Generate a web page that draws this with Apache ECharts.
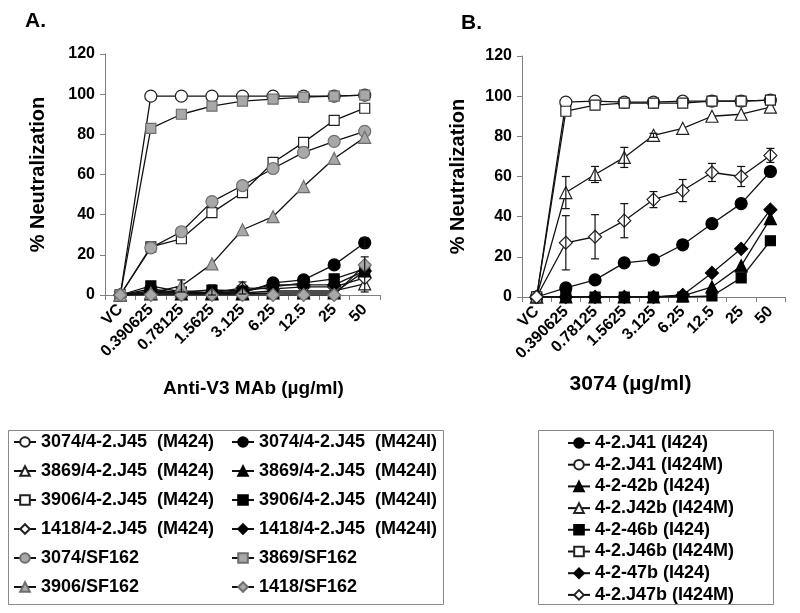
<!DOCTYPE html>
<html>
<head>
<meta charset="utf-8">
<script src="https://cdn.jsdelivr.net/npm/echarts@6/dist/echarts.min.js"></script>
<style>
  html, body { margin: 0; padding: 0; background: #fff; }
  #mychart { width: 800px; height: 613px; }
</style>
</head>
<body>
<div id="mychart"></div>
<script>
// x categories (antibody concentration, µg/ml)
const doses = ["VC", "0.390625", "0.78125", "1.5625", "3.125", "6.25", "12.5", "25", "50"];
const yTicks = [0, 20, 40, 60, 80, 100, 120];

// panel A - anti-V3 MAbs
const a3074M = [0, 99, 99, 99, 99, 99, 99, 99, 99.5];
const a3869M = [0, 1, 2, 1, 1, 2, 2, 2, 5.5];
const a3906M = [0, 24, 28, 41, 51, 66, 76, 87, 93];
const a1418M = [0, 1, 1, 1, 3.5, 3, 4, 4, 8.5];
const a3074I = [0, 3, 1, 1, 1, 6, 7.5, 15, 26];
const a3869I = [0, 0.5, 0.5, 0.5, 0.5, 1, 1, 1, 12];
const a3906I = [0, 4.5, 1.5, 2.5, 2, 4, 6, 8, 13];
const a1418I = [0, 2, 1, 1, 2, 5, 5, 5, 12];
const a3074SF = [0, 23.5, 31.5, 46.5, 54.5, 63, 71, 76.5, 81.5];
const a3869SF = [0, 83, 90, 94, 96.5, 97.5, 98.5, 99, 99.5];
const a3906SF = [0, 1, 4.5, 15.5, 32.5, 39, 54, 68, 78.5];
const a1418SF = [0, 0, 0, 0, 0, 0, 0, 0, 15];
// error bars (panel A)
const a3869MErr = [0, 0, 0, 0, 0, 0, 0, 0, 4];
const a1418MErr = [0, 0, 0, 0, 3, 0, 0, 0, 0];
const a3074IErr = [0, 0, 0, 0, 0, 0, 0, 0, 2.5];
const a3906IErr = [0, 0, 0, 2.5, 0, 0, 0, 0, 0];
const a3906SFErr = [0, 0, 3, 0, 0, 0, 0, 0, 0];
const a1418SFErr = [0, 0, 0, 0, 0, 0, 0, 0, 4];

// panel B - 3074 against J41/J42b/J46b/J47b
const bJ41 = [0, 4.5, 8.5, 17, 18.5, 26, 36.5, 46.5, 62.5];
const bJ41M = [0, 97, 97.5, 97, 97, 97.5, 97.5, 97.5, 98];
const b42b = [0, 0, 0, 0, 0, 0.5, 5, 15.5, 39];
const bJ42bM = [0, 52, 61, 69.5, 80.5, 84, 90, 91, 94.5];
const b46b = [0, 0, 0, 0, 0, 0, 0.5, 9.5, 28];
const bJ46bM = [0, 92.5, 95.5, 96.5, 96.5, 96.5, 97.5, 97.5, 98];
const b47b = [0, 0, 0, 0, 0, 1, 12, 24, 43.5];
const bJ47bM = [0, 27, 30, 38, 48.5, 53, 62, 60, 70.5];
// error bars (panel B)
const bJ42bMErr = [0, 8, 4, 5, 1, 0, 0, 0, 0];
const bJ47bMErr = [0, 13.5, 11, 8.5, 4, 5.5, 4.5, 5, 3.5];

const FONT = "Liberation Sans, Arial, sans-serif";

// marker looks
const fills = {
  open: { color: "#fff", borderColor: "#222" },
  black: { color: "#000", borderColor: "#000" },
  gray: { color: "#a8a8a8", borderColor: "#6e6e6e" }
};
const sizes = { circle: 12, rect: 10, triangle: 12, diamond: 13 };

function line(name, data, symbol, fill, idx) {
  return {
    name: name,
    type: "line",
    xAxisIndex: idx,
    yAxisIndex: idx,
    data: data,
    symbol: symbol,
    symbolSize: sizes[symbol],
    showAllSymbol: true,
    lineStyle: { color: "#111", width: 1.3 },
    itemStyle: { color: fills[fill].color, borderColor: fills[fill].borderColor, borderWidth: 1.2 },
    z: 3
  };
}

function errBars(data, err, idx) {
  const pts = [];
  data.forEach((v, i) => {
    if (err[i] > 0) pts.push([i, Math.max(0, v - err[i]), v + err[i]]);
  });
  return {
    type: "custom",
    xAxisIndex: idx,
    yAxisIndex: idx,
    data: pts,
    encode: { x: 0, y: [1, 2] },
    z: 4,
    silent: true,
    renderItem: function (params, api) {
      const i = api.value(0);
      const lo = api.coord([i, api.value(1)]);
      const hi = api.coord([i, api.value(2)]);
      const st = { stroke: "#111", lineWidth: 1.2 };
      return {
        type: "group",
        children: [
          { type: "line", shape: { x1: lo[0], y1: lo[1], x2: hi[0], y2: hi[1] }, style: st },
          { type: "line", shape: { x1: hi[0] - 4, y1: hi[1], x2: hi[0] + 4, y2: hi[1] }, style: st },
          { type: "line", shape: { x1: lo[0] - 4, y1: lo[1], x2: lo[0] + 4, y2: lo[1] }, style: st }
        ]
      };
    }
  };
}

function xAxis(idx, name, padding, gap) {
  return {
    type: "category",
    gridIndex: idx,
    data: doses,
    boundaryGap: true,
    name: name,
    nameLocation: "middle",
    nameGap: gap,
    nameTextStyle: { fontFamily: FONT, fontWeight: "bold", fontSize: idx === 0 ? 19 : 21, color: "#000", padding: padding },
    axisLine: { lineStyle: { color: "#808080", width: 1 } },
    axisTick: { show: true, interval: 0, length: 5, lineStyle: { color: "#808080" } },
    axisLabel: { interval: 0, rotate: 45, margin: 12, fontFamily: FONT, fontWeight: "bold", fontSize: 16, color: "#000" },
    splitLine: { show: false }
  };
}

function yAxis(idx, gap) {
  return {
    type: "value",
    gridIndex: idx,
    min: yTicks[0],
    max: yTicks[yTicks.length - 1],
    interval: 20,
    name: "% Neutralization",
    nameLocation: "middle",
    nameGap: gap,
    nameTextStyle: { fontFamily: FONT, fontWeight: "bold", fontSize: 20, color: "#000" },
    axisLine: { show: true, lineStyle: { color: "#808080", width: 1 } },
    axisTick: { show: true, length: 5, lineStyle: { color: "#808080" } },
    axisLabel: { margin: 10, fontFamily: FONT, fontWeight: "bold", fontSize: 16, color: "#000" },
    splitLine: { show: false }
  };
}

const legendText = { fontFamily: FONT, fontWeight: "bold", fontSize: 18, color: "#000", lineHeight: 20 };

const seriesA = [
  line("3074/4-2.J45  (M424)", a3074M, "circle", "open", 0),
  line("3869/4-2.J45  (M424)", a3869M, "triangle", "open", 0),
  line("3906/4-2.J45  (M424)", a3906M, "rect", "open", 0),
  line("1418/4-2.J45  (M424)", a1418M, "diamond", "open", 0),
  line("3074/4-2.J45  (M424I)", a3074I, "circle", "black", 0),
  line("3869/4-2.J45  (M424I)", a3869I, "triangle", "black", 0),
  line("3906/4-2.J45  (M424I)", a3906I, "rect", "black", 0),
  line("1418/4-2.J45  (M424I)", a1418I, "diamond", "black", 0),
  line("3074/SF162", a3074SF, "circle", "gray", 0),
  line("3869/SF162", a3869SF, "rect", "gray", 0),
  line("3906/SF162", a3906SF, "triangle", "gray", 0),
  line("1418/SF162", a1418SF, "diamond", "gray", 0),
  errBars(a3869M, a3869MErr, 0),
  errBars(a1418M, a1418MErr, 0),
  errBars(a3074I, a3074IErr, 0),
  errBars(a3906I, a3906IErr, 0),
  errBars(a3906SF, a3906SFErr, 0),
  errBars(a1418SF, a1418SFErr, 0)
];

const seriesB = [
  line("4-2.J41 (I424)", bJ41, "circle", "black", 1),
  line("4-2.J41 (I424M)", bJ41M, "circle", "open", 1),
  line("4-2-42b (I424)", b42b, "triangle", "black", 1),
  line("4-2.J42b (I424M)", bJ42bM, "triangle", "open", 1),
  line("4-2-46b (I424)", b46b, "rect", "black", 1),
  line("4-2.J46b (I424M)", bJ46bM, "rect", "open", 1),
  line("4-2-47b (I424)", b47b, "diamond", "black", 1),
  line("4-2.J47b (I424M)", bJ47bM, "diamond", "open", 1),
  errBars(bJ42bM, bJ42bMErr, 1),
  errBars(bJ47bM, bJ47bMErr, 1)
];

const chart = echarts.init(document.getElementById("mychart"), null, { renderer: "canvas" });

const legendBase = {
  orient: "vertical", padding: 0, itemWidth: 22, itemHeight: 12,
  textStyle: legendText, selectedMode: false
};

const option = {
  animation: false,
  backgroundColor: "#fff",
  title: [
    { text: "A.", left: 20, top: 6, textStyle: { fontFamily: FONT, fontWeight: "bold", fontSize: 21, color: "#000" } },
    { text: "B.", left: 456, top: 8, textStyle: { fontFamily: FONT, fontWeight: "bold", fontSize: 21, color: "#000" } }
  ],
  grid: [
    { left: 105, top: 54, width: 275, height: 241 },
    { left: 522, top: 56, width: 263, height: 241 }
  ],
  xAxis: [xAxis(0, "Anti-V3 MAb (µg/ml)", [0, 0, 0, 22], 84), xAxis(1, "3074 (µg/ml)", [0, 46, 0, 0], 77)],
  yAxis: [yAxis(0, 57), yAxis(1, 54)],
  legend: [
    Object.assign({}, legendBase, {
      left: 13, top: 432, itemGap: 9,
      data: seriesA.slice(0, 4).map(s => s.name).concat([seriesA[8].name, seriesA[10].name])
    }),
    Object.assign({}, legendBase, {
      left: 231, top: 432, itemGap: 9,
      data: seriesA.slice(4, 8).map(s => s.name).concat([seriesA[9].name, seriesA[11].name])
    }),
    Object.assign({}, legendBase, {
      left: 567, top: 433, itemGap: 1.7,
      data: seriesB.slice(0, 8).map(s => s.name)
    })
  ],
  graphic: [
    { type: "rect", shape: { x: 8.5, y: 430.5, width: 435, height: 174 }, style: { fill: "none", stroke: "#8a8a8a", lineWidth: 1 } },
    { type: "rect", shape: { x: 538.5, y: 430.5, width: 235, height: 174 }, style: { fill: "none", stroke: "#8a8a8a", lineWidth: 1 } }
  ],
  series: seriesA.concat(seriesB)
};

chart.setOption(option);
</script>
</body>
</html>
